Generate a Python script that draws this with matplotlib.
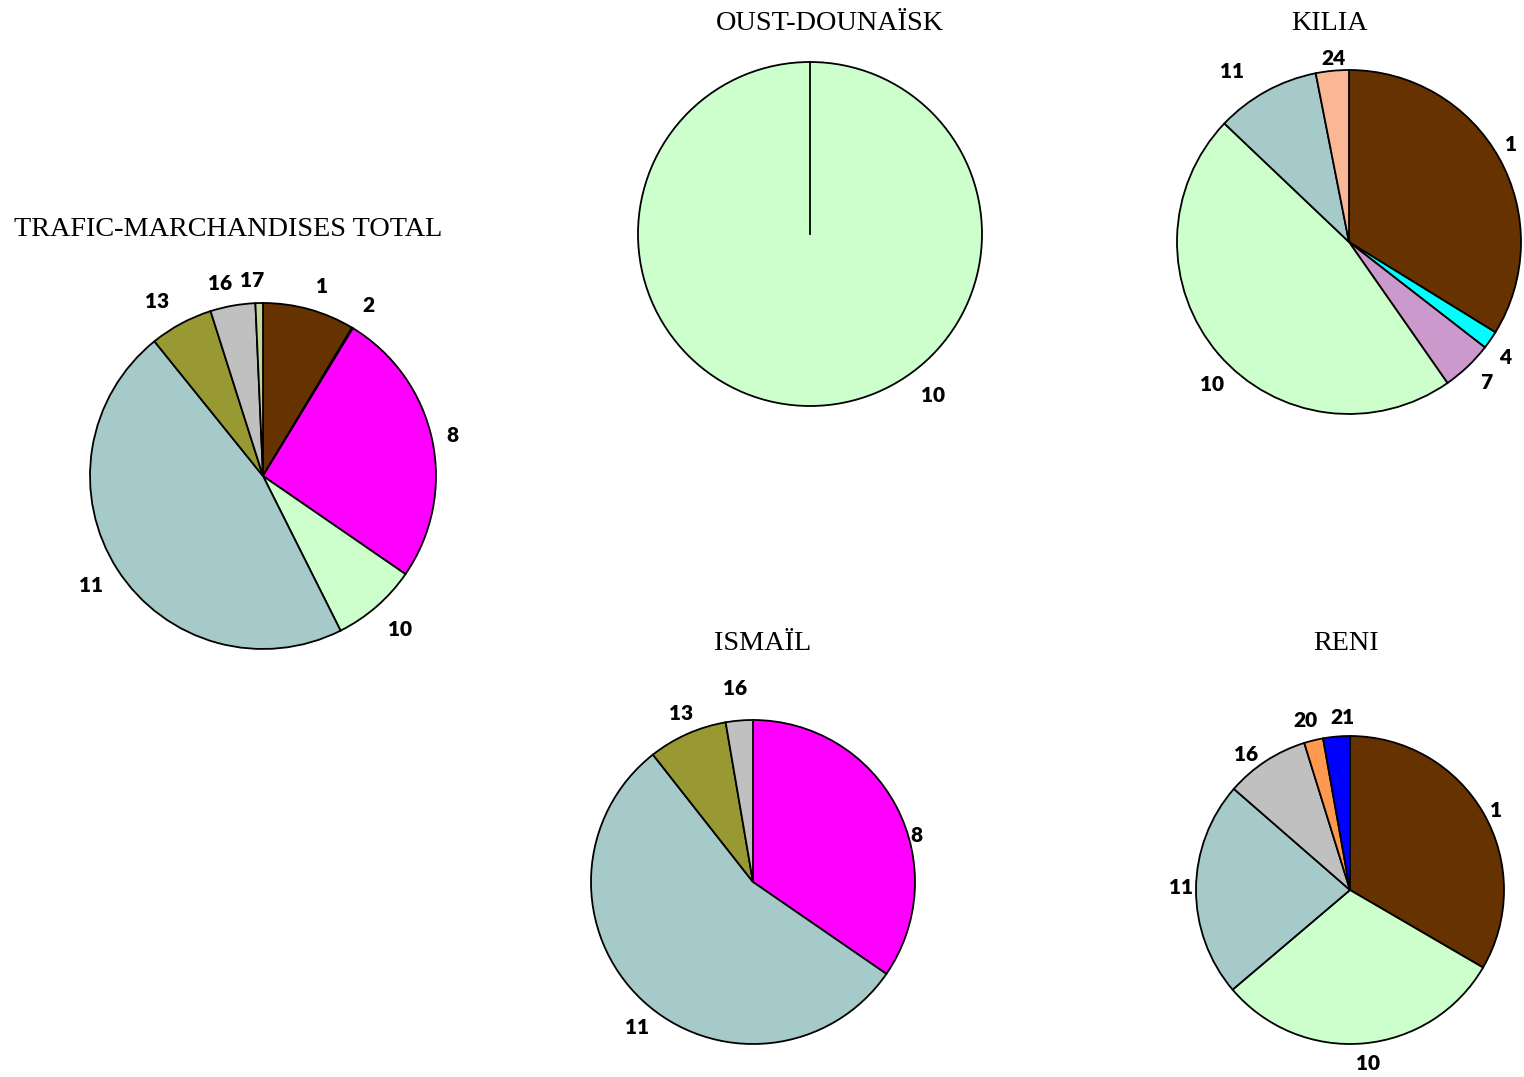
import numpy as np
import matplotlib
matplotlib.use("Agg")
import matplotlib.pyplot as plt

# slice data (category codes + shares in %)
total_labels = ['1', '2', '8', '10', '11', '13', '16', '17']
total_values = [8.6, 0.1, 25.9, 8.0, 46.6, 5.9, 4.2, 0.7]

oust_labels = ['10']
oust_values = [100.0]

kilia_labels = ['1', '4', '7', '10', '11', '24']
kilia_values = [33.8, 1.7, 4.8, 46.8, 9.8, 3.1]

ismail_labels = ['8', '11', '13', '16']
ismail_values = [34.6, 54.8, 7.9, 2.7]

reni_labels = ['1', '10', '11', '16', '20', '21']
reni_values = [33.4, 30.4, 22.6, 8.8, 2.0, 2.8]

colors = {
    '1': '#663300', '2': '#FFFF99', '4': '#00FFFF', '7': '#CC99CC',
    '8': '#FF00FF', '10': '#CCFFCC', '11': '#A6CACA', '13': '#999933',
    '16': '#C0C0C0', '17': '#C3D69B', '20': '#FF9950', '21': '#0000FF',
    '24': '#F9B795',
}

W, H = 1524, 1077
fig = plt.figure(figsize=(W / 100, H / 100), dpi=100)
ax = fig.add_axes([0, 0, 1, 1])
ax.set_xlim(0, W)
ax.set_ylim(0, H)
ax.set_aspect('equal')
ax.axis('off')

lab_font = dict(family=['Lato', 'DejaVu Sans'], fontweight='heavy', fontsize=15)
title_font = dict(family=['Liberation Serif', 'DejaVu Serif'], fontsize=20.3)


def draw_pie(labels, values, cx, cy, r, title, tpos, lpos):
    # lpos: label placement per slice as (angle in degrees, distance in radii)
    cy = H - cy
    wedges, _ = ax.pie(values, colors=[colors[l] for l in labels], startangle=90,
                       counterclock=False, center=(cx, cy), radius=r,
                       wedgeprops=dict(edgecolor='black', linewidth=1.3),
                       frame=True)
    for w, lab in zip(wedges, labels):
        if lab in lpos:
            a, d = lpos[lab]
        else:
            a, d = (w.theta1 + w.theta2) / 2, 1.14
        a = np.deg2rad(a)
        ax.text(cx + d * r * np.cos(a), cy + d * r * np.sin(a), lab,
                ha='center', va='center', **lab_font)
    ax.text(tpos[0], H - tpos[1], title, ha='center', va='center', **title_font)
    return wedges


draw_pie(total_labels, total_values, 263, 476, 173,
         'TRAFIC-MARCHANDISES TOTAL', (228, 229),
         {'1': (72.7, 1.15), '2': (58.2, 1.16), '8': (12.2, 1.12),
          '10': (-48.1, 1.19), '11': (-147.6, 1.18), '13': (121.2, 1.18),
          '16': (102.6, 1.14), '17': (93.2, 1.13)})
draw_pie(oust_labels, oust_values, 810, 234, 172, 'OUST-DOUNAÏSK', (830, 23),
         {'10': (-52.6, 1.18)})
# radial edge of the single full slice
ax.plot([810, 810], [H - 234, H - 234 + 172], color='black', lw=1.3)
draw_pie(kilia_labels, kilia_values, 1349, 242, 172, 'KILIA', (1330, 23),
         {'1': (31, 1.10), '4': (-36.6, 1.13), '7': (-45.6, 1.14),
          '10': (-133.8, 1.15), '11': (124.4, 1.2), '24': (94.7, 1.07)})
draw_pie(ismail_labels, ismail_values, 753, 882, 162, 'ISMAÏL', (763, 644),
         {'8': (16, 1.05), '11': (-128.7, 1.15), '13': (113.2, 1.13),
          '16': (95.3, 1.2)})
draw_pie(reni_labels, reni_values, 1350, 890, 154, 'RENI', (1346, 644),
         {'1': (28.7, 1.08), '10': (-84, 1.13), '11': (179, 1.10),
          '16': (127.4, 1.11), '20': (104.8, 1.14), '21': (92.6, 1.12)})

ax.set_xlim(0, W)
ax.set_ylim(0, H)
ax.axis('off')

fig.savefig('out.png', dpi=100, facecolor='white')
